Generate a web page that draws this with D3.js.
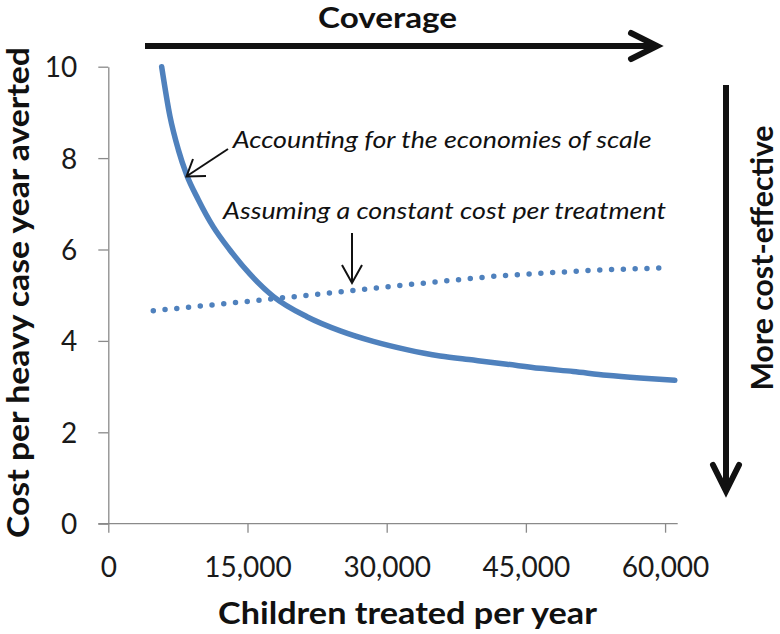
<!DOCTYPE html>
<html>
<head>
<meta charset="utf-8">
<script src="https://cdn.jsdelivr.net/npm/d3@7"></script>
<style>
  html, body { margin: 0; padding: 0; background: #fff; }
  svg { display: block; font-family: Lato, "Open Sans", sans-serif; }
</style>
</head>
<body>
<svg id="chart" width="780" height="634"></svg>
<script>
// ---- data ----
const scaleX = [5750, 6650, 7550, 8450, 9700, 11300, 13100, 15270, 17800, 21400, 25000, 28550, 32150, 35750, 39350, 42950, 46500, 50100, 53700, 57300, 61050];
const scaleY = [10.0, 8.91, 8.18, 7.63, 7.09, 6.50, 5.99, 5.46, 4.97, 4.53, 4.22, 3.99, 3.81, 3.67, 3.58, 3.49, 3.40, 3.33, 3.25, 3.19, 3.14];
const constX = [4850, 11300, 17700, 24000, 30400, 36800, 42000, 48300, 53700, 57300, 59800];
const constY = [4.66, 4.79, 4.92, 5.05, 5.19, 5.32, 5.42, 5.50, 5.56, 5.58, 5.60];
const xTicks = [0, 15000, 30000, 45000, 60000];
const yTicks = [0, 2, 4, 6, 8, 10];
const xTitle = "Children treated per year";
const yTitle = "Cost per heavy case year averted";
const topLabel = "Coverage";
const rightLabel = "More cost-effective";
const noteScale = "Accounting for the economies of scale";
const noteConst = "Assuming a constant cost per treatment";

// ---- layout ----
const svg = d3.select("#chart");
const x = d3.scaleLinear().domain([0, 61360]).range([108.3, 677.7]);
const y = d3.scaleLinear().domain([0, 10]).range([523.7, 66.7]);
const axisColor = "#8a8a8a";
const blue = "#4F81BD";
const ink = "#111";

// axes
const gx = svg.append("g").attr("transform", `translate(0,${y(0)})`)
  .call(d3.axisBottom(x).tickValues(xTicks).tickSize(9).tickPadding(24)
    .tickFormat(d3.format(",")).tickSizeOuter(0));
const gy = svg.append("g").attr("transform", `translate(${x(0)},0)`)
  .call(d3.axisLeft(y).tickValues(yTicks).tickSize(10).tickPadding(21).tickSizeOuter(0));
[gx, gy].forEach(g => {
  g.select(".domain").attr("stroke", axisColor).attr("stroke-width", 1.3);
  g.selectAll(".tick line").attr("stroke", axisColor).attr("stroke-width", 1.3);
  g.selectAll(".tick text").attr("fill", "#1a1a1a").attr("font-size", 28)
    .attr("font-family", "Lato, 'Open Sans', sans-serif");
});
gx.select(".domain").attr("d", `M${x(0) - 10},0H${x.range()[1]}`);
gy.selectAll(".tick text").attr("dy", "0.36em");

// series lines
const line = d3.line().x(d => x(d[0])).y(d => y(d[1])).curve(d3.curveMonotoneX);
const scaleData = scaleX.map((v, i) => [v, scaleY[i]]);
const constData = constX.map((v, i) => [v, constY[i]]);

svg.append("path").datum(constData).attr("d", line)
  .attr("fill", "none").attr("stroke", blue).attr("stroke-width", 5.5)
  .attr("stroke-linecap", "round").attr("stroke-dasharray", "0 11.8");
svg.append("path").datum(scaleData).attr("d", line)
  .attr("fill", "none").attr("stroke", blue).attr("stroke-width", 5.5)
  .attr("stroke-linecap", "round");

// titles
function fitText(sel, w) {
  sel.attr("textLength", w).attr("lengthAdjust", "spacingAndGlyphs");
}
svg.append("text").text(xTitle)
  .attr("x", 407.5).attr("y", 624).attr("text-anchor", "middle")
  .attr("font-weight", "bold").attr("font-size", 29.5).attr("fill", ink)
  .call(fitText, 379);
svg.append("text").text(yTitle)
  .attr("transform", "translate(29,292.5) rotate(-90)").attr("text-anchor", "middle")
  .attr("font-weight", "bold").attr("font-size", 29.5).attr("fill", ink)
  .call(fitText, 491);
svg.append("text").text(topLabel)
  .attr("x", 387.5).attr("y", 28).attr("text-anchor", "middle")
  .attr("font-weight", "bold").attr("font-size", 29).attr("fill", ink)
  .call(fitText, 139);
svg.append("text").text(rightLabel)
  .attr("transform", "translate(773,258) rotate(-90)").attr("text-anchor", "middle")
  .attr("font-weight", "bold").attr("font-size", 29.5).attr("fill", ink)
  .call(fitText, 265);

// big arrows
svg.append("line").attr("x1", 145).attr("y1", 46).attr("x2", 655).attr("y2", 46)
  .attr("stroke", ink).attr("stroke-width", 6);
svg.append("path").attr("d", "M631,33L657,46L631,59").attr("fill", "none")
  .attr("stroke", ink).attr("stroke-width", 6).attr("stroke-linecap", "round");
svg.append("line").attr("x1", 726).attr("y1", 85).attr("x2", 726).attr("y2", 490)
  .attr("stroke", ink).attr("stroke-width", 6);
svg.append("path").attr("d", "M713,465L726,491L739,465").attr("fill", "none")
  .attr("stroke", ink).attr("stroke-width", 6).attr("stroke-linecap", "round");

// annotations
svg.append("text").text(noteScale)
  .attr("x", 232.7).attr("y", 147.5).attr("font-style", "italic")
  .attr("font-size", 23.5).attr("fill", ink).call(fitText, 419);
svg.append("text").text(noteConst)
  .attr("x", 223).attr("y", 218.5).attr("font-style", "italic")
  .attr("font-size", 23.5).attr("fill", ink).call(fitText, 443);

// small arrows
svg.append("line").attr("x1", 228).attr("y1", 149).attr("x2", 187).attr("y2", 176)
  .attr("stroke", ink).attr("stroke-width", 2);
svg.append("path").attr("d", "M193,159L186.5,176.5L206,176").attr("fill", "none")
  .attr("stroke", ink).attr("stroke-width", 2);
svg.append("line").attr("x1", 352).attr("y1", 233).attr("x2", 352).attr("y2", 283)
  .attr("stroke", ink).attr("stroke-width", 2);
svg.append("path").attr("d", "M342,265L352,283L362,265").attr("fill", "none")
  .attr("stroke", ink).attr("stroke-width", 2);
</script>
</body>
</html>
